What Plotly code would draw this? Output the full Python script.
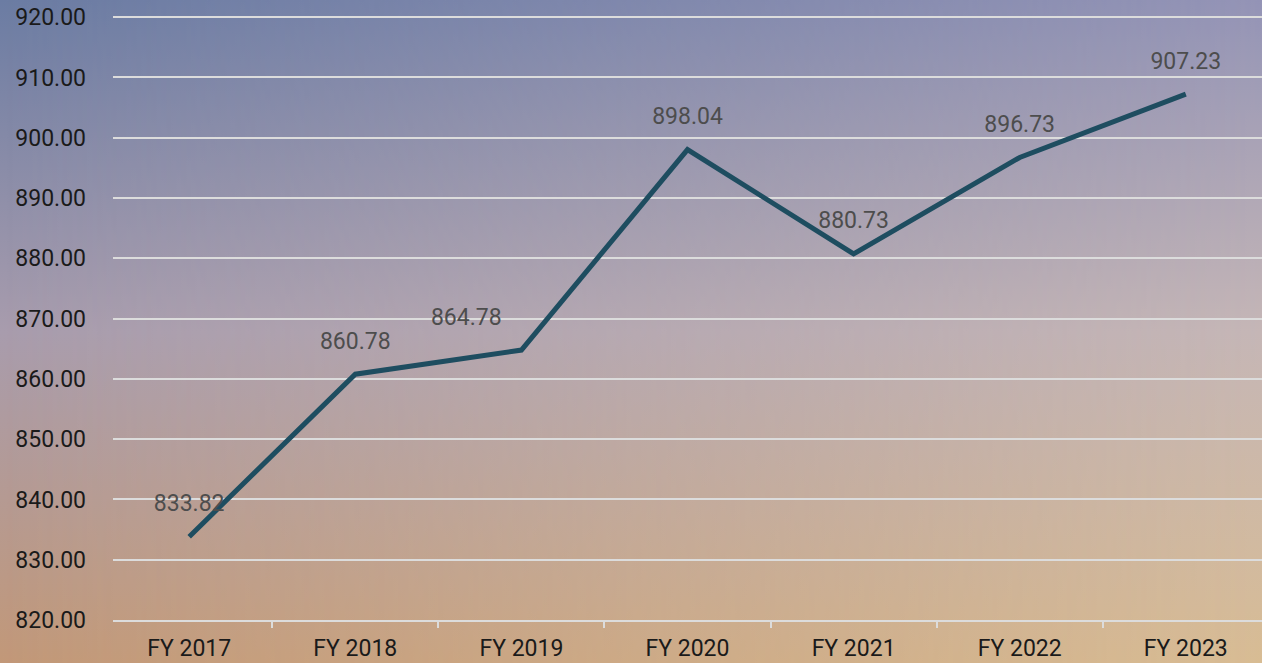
import base64
import plotly.graph_objects as go

# data
years = ["FY 2017", "FY 2018", "FY 2019", "FY 2020", "FY 2021", "FY 2022", "FY 2023"]
values = [833.82, 860.78, 864.78, 898.04, 880.73, 896.73, 907.23]
y_ticks = [820, 830, 840, 850, 860, 870, 880, 890, 900, 910, 920]

# gradient background as an svg image
svg = """<svg xmlns='http://www.w3.org/2000/svg' width='1262' height='663' preserveAspectRatio='none'>
<defs>
<linearGradient id='l' x1='0' y1='0' x2='0' y2='1'>
<stop offset='0' stop-color='#6b7ca3'/><stop offset='0.5' stop-color='#a89cad'/><stop offset='1' stop-color='#c29878'/>
</linearGradient>
<linearGradient id='r' x1='0' y1='0' x2='0' y2='1'>
<stop offset='0' stop-color='#9494b6'/><stop offset='0.5' stop-color='#c5b6b6'/><stop offset='1' stop-color='#d8bc94'/>
</linearGradient>
<linearGradient id='h' x1='0' y1='0' x2='1' y2='0'>
<stop offset='0' stop-color='white' stop-opacity='0'/><stop offset='1' stop-color='white' stop-opacity='1'/>
</linearGradient>
<mask id='m'><rect width='1262' height='663' fill='url(#h)'/></mask>
</defs>
<rect width='1262' height='663' fill='url(#l)'/>
<rect width='1262' height='663' fill='url(#r)' mask='url(#m)'/>
</svg>"""
bg = "data:image/svg+xml;base64," + base64.b64encode(svg.encode()).decode()

# label positions (one label is nudged left like in the original)
label_pos = ["top center"] * len(values)
label_pos[2] = "top left"

fig = go.Figure()
fig.add_trace(go.Scatter(
    x=years, y=values,
    mode="lines+markers+text",
    text=["%.2f" % v for v in values],
    textposition=label_pos,
    textfont=dict(family="Roboto", size=23, color="#4d4d4d"),
    line=dict(color="#1e4d60", width=5),
    marker=dict(size=30, color="rgba(0,0,0,0)"),
    hoverinfo="x+y",
))

L, T, B = 113, 16, 43
pw, ph = 1262 - L, 663 - T - B
fig.update_layout(
    width=1262, height=663,
    margin=dict(l=L, r=0, t=T, b=B),
    paper_bgcolor="rgba(0,0,0,0)",
    plot_bgcolor="rgba(0,0,0,0)",
    showlegend=False,
    font=dict(family="Roboto", size=23, color="#1a1a1a"),
    images=[dict(source=bg, xref="paper", yref="paper",
                 x=-L / pw, y=1 + T / ph, sizex=1 + L / pw, sizey=1 + (T + B) / ph,
                 xanchor="left", yanchor="top", sizing="stretch", layer="below")],
    xaxis=dict(
        type="category", showgrid=False,
        showline=True, linecolor="#dcdcdc", linewidth=2,
        ticks="outside", tickson="boundaries", ticklen=6, tickwidth=2, tickcolor="#dcdcdc",
        ticklabelstandoff=6,
        tickfont=dict(size=23, color="#1a1a1a"),
    ),
    yaxis=dict(
        range=[820, 920.2], tickvals=y_ticks, tickformat=".2f",
        showgrid=True, gridcolor="#dcdcdc", gridwidth=2,
        zeroline=False, showline=False,
        ticklabelstandoff=26,
        tickfont=dict(size=23, color="#1a1a1a"),
    ),
)

fig.write_html("out.html", config={"displayModeBar": False},
               post_script="document.body.style.margin='0';")
